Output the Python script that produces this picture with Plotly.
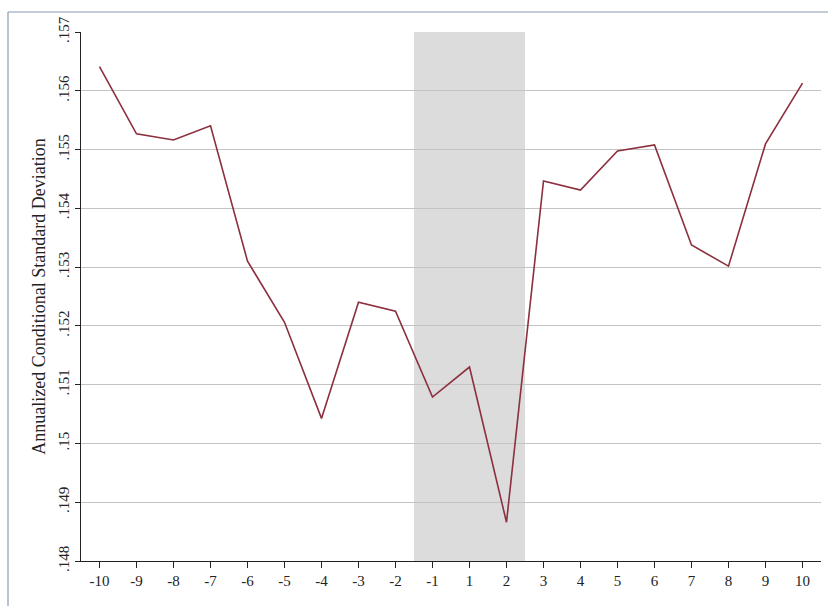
import plotly.graph_objects as go

periods = ["-10", "-9", "-8", "-7", "-6", "-5", "-4", "-3", "-2", "-1",
           "1", "2", "3", "4", "5", "6", "7", "8", "9", "10"]
volatility = [0.15641, 0.155267, 0.155164, 0.155403, 0.153102, 0.152062, 0.150426,
              0.152403, 0.15225, 0.150789, 0.1513, 0.148659, 0.154466, 0.154312,
              0.154977, 0.155079, 0.153375, 0.153017, 0.155096, 0.156131]
y_tickvals = [0.148, 0.149, 0.150, 0.151, 0.152, 0.153, 0.154, 0.155, 0.156, 0.157]
y_ticktext = [".148", ".149", ".15", ".151", ".152", ".153", ".154", ".155", ".156", ".157"]
shade_from, shade_to = "-2", "3"  # shaded between these neighbours

xs = list(range(len(periods)))
i0 = periods.index(shade_from) + 0.5
i1 = periods.index(shade_to) - 0.5

fig = go.Figure()
fig.add_trace(go.Scatter(x=xs, y=volatility, mode="lines",
                         line=dict(color="#8c2f3e", width=1.6), showlegend=False))

fig.add_shape(type="rect", xref="x", yref="y", x0=i0, x1=i1, y0=y_tickvals[0], y1=y_tickvals[-1],
              fillcolor="#dcdcdc", line=dict(width=0), layer="below")

W, H = 828, 606
ml, mr, mt, mb = 81, 7, 32, 45
pw, ph = W - ml - mr, H - mt - mb
# thin frame at the left and top edges of the picture
fx = (8 - ml) / pw
fy = 1 + (mt - 12) / ph
fig.add_shape(type="line", xref="paper", yref="paper", x0=fx, x1=fx, y0=fy, y1=-1,
              line=dict(color="#8a9bb0", width=1.2))
fig.add_shape(type="line", xref="paper", yref="paper", x0=fx, x1=2, y0=fy, y1=fy,
              line=dict(color="#8a9bb0", width=1.2))

font = "Liberation Serif"
fig.update_layout(
    width=W, height=H,
    margin=dict(l=ml, r=mr, t=mt, b=mb),
    paper_bgcolor="white", plot_bgcolor="white",
    font=dict(family=font, size=15, color="#222222"),
    xaxis=dict(range=[-0.5, len(periods) - 0.5], tickvals=xs, ticktext=periods,
               showgrid=False, zeroline=False, showline=True, linecolor="#222222", linewidth=1.3,
               ticks="outside", ticklen=6, tickcolor="#222222", tickwidth=1.2,
               tickfont=dict(size=15)),
    yaxis=dict(range=[y_tickvals[0], y_tickvals[-1]], tickvals=y_tickvals, ticktext=y_ticktext,
               tickangle=-90, showgrid=True, gridcolor="#c4c4c4", gridwidth=1.3,
               zeroline=False, showline=True, linecolor="#222222", linewidth=1.3,
               ticks="outside", ticklen=5, tickcolor="#222222", tickwidth=1.2,
               tickfont=dict(size=15),
               title=dict(text="Annualized Conditional Standard Deviation",
                          font=dict(size=18), standoff=5)),
)

fig.write_html("out.html")
